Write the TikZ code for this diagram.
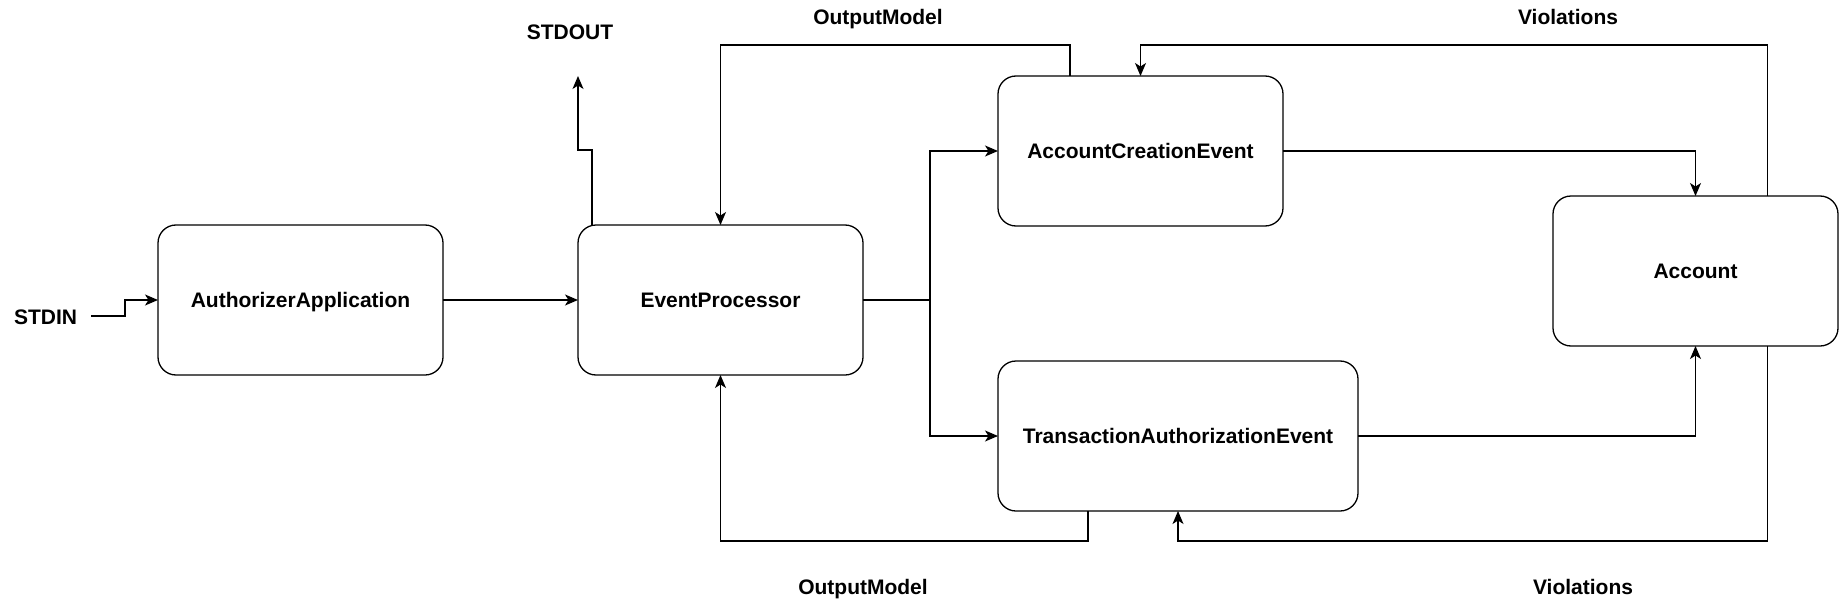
\documentclass[tikz,border=0pt]{standalone}
\usepackage{fontspec}
\setmainfont{Liberation Sans}
\usetikzlibrary{arrows.meta,calc}
\begin{document}
\begin{tikzpicture}[x=1pt,y=-1pt,
  box/.style={draw,rounded corners=18pt,line width=1.3pt,minimum width=285pt,minimum height=150pt,inner sep=0pt,outer sep=0pt,font=\fontsize{21}{25}\selectfont\bfseries,text height=15pt,text depth=0pt},
  lbl/.style={font=\fontsize{21}{25}\selectfont\bfseries,inner sep=0pt,text height=15pt,text depth=0pt},
  conn/.style={line width=1.3pt},
  arr/.style={conn,-{Stealth[length=13pt,width=11pt,inset=3.5pt]}}]
\useasboundingbox (0,0) rectangle (1839,602);
% boxes
\node[box] (app) at (300.5,300) {AuthorizerApplication};
\node[box] (ep)  at (720.5,300) {EventProcessor};
\node[box] (ace) at (1140.5,151) {AccountCreationEvent};
\node[box,minimum width=360pt] (tae) at (1178,436) {TransactionAuthorizationEvent};
\node[box] (acc) at (1695.5,271) {Account};
% labels
\node[lbl] (stdin)  at (45.5,317) {STDIN};
\node[lbl] (stdout) at (570,32) {STDOUT};
\node[lbl] (omtop)  at (878,17) {OutputModel};
\node[lbl] (vtop)   at (1568,17) {Violations};
\node[lbl] (ombot)  at (863,587) {OutputModel};
\node[lbl] (vbot)   at (1583,587) {Violations};
% coordinates
\coordinate (stdinE) at (91,316);
\coordinate (stdoutTip) at (578,76);
\coordinate (split) at (930,300);
% connectors
\draw[arr] (stdinE) -- (125,316) |- (app.west);
\draw[arr] (app.east) -- (ep.west);
\draw[arr] ($(ep.north west)+(14,0)$) -- ++(0,-75) -| (stdoutTip);
\draw[arr] ($(ace.north west)+(72,0)$) -- (1070,45) -| (ep.north);
\draw[arr] ($(acc.north east)+(-70.5,0)$) -- (1767.5,45) -| (ace.north);
\draw[conn] (ep.east) -- (split);
\draw[arr] (split) |- (ace.west);
\draw[arr] (split) |- (tae.west);
\draw[arr] (ace.east) -| (acc.north);
\draw[arr] (tae.east) -| (acc.south);
\draw[arr] ($(tae.south west)+(90,0)$) -- (1088,541) -| (ep.south);
\draw[arr] ($(acc.south east)+(-70.5,0)$) -- (1767.5,541) -| (tae.south);
\end{tikzpicture}
\end{document}
